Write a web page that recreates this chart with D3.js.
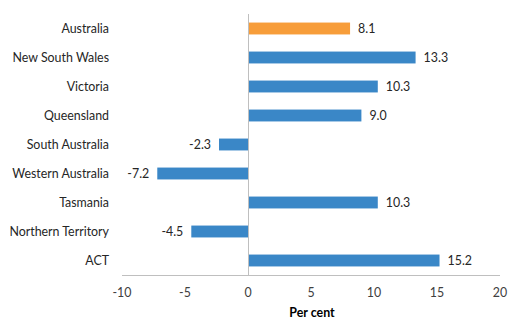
<!DOCTYPE html>
<html><head><meta charset="utf-8">
<script src="https://cdn.jsdelivr.net/npm/d3@7"></script>
<style>body{margin:0;background:#fff}svg{display:block}text{font-family:Lato,"Open Sans",sans-serif}</style>
</head><body>
<svg id="c" width="516" height="331"></svg>
<script>
const categories = ["Australia","New South Wales","Victoria","Queensland","South Australia","Western Australia","Tasmania","Northern Territory","ACT"];
const values = [8.1,13.3,10.3,9.0,-2.3,-7.2,10.3,-4.5,15.2];
const highlight = ["Australia"];
const xTicks = [-10,-5,0,5,10,15,20];
const xTitle = "Per cent";

const svg = d3.select("#c");
const x = d3.scaleLinear().domain([-10,20]).range([122,500]);
const y = d3.scaleBand().domain(categories).range([14,275]).paddingInner(0.59).paddingOuter(0.295);
const fs = 12.4;

svg.append("line").attr("x1",122).attr("x2",500).attr("y1",275.5).attr("y2",275.5).attr("stroke","#bfbfbf").attr("stroke-width",1);
svg.selectAll("rect.bar").data(categories).join("rect")
  .attr("x",(d,i)=>Math.min(x(0),x(values[i])))
  .attr("width",(d,i)=>Math.abs(x(values[i])-x(0)))
  .attr("y",d=>y(d)).attr("height",y.bandwidth())
  .attr("fill",d=>highlight.includes(d)?"#f79d3a":"#3a87c7");
svg.append("line").attr("x1",x(0)+0.5).attr("x2",x(0)+0.5).attr("y1",14).attr("y2",275).attr("stroke","#bfbfbf").attr("stroke-width",1);
svg.selectAll("text.cat").data(categories).join("text")
  .attr("x",109).attr("y",d=>y(d)+y.bandwidth()/2).attr("dy","0.35em")
  .attr("text-anchor","end").attr("font-size",fs).attr("fill","#262626").text(d=>d);
svg.selectAll("text.val").data(categories).join("text")
  .attr("x",(d,i)=>values[i]>=0?x(values[i])+8:x(values[i])-8)
  .attr("y",d=>y(d)+y.bandwidth()/2).attr("dy","0.35em")
  .attr("text-anchor",(d,i)=>values[i]>=0?"start":"end")
  .attr("font-size",fs).attr("fill","#262626").text((d,i)=>values[i].toFixed(1));
svg.selectAll("text.tick").data(xTicks).join("text")
  .attr("x",d=>x(d)).attr("y",293).attr("dy","0.35em").attr("text-anchor","middle")
  .attr("font-size",fs).attr("fill","#404040").text(d=>d);
svg.append("text").attr("x",312).attr("y",313).attr("dy","0.35em").attr("text-anchor","middle")
  .attr("font-size",fs).attr("font-weight","bold").attr("fill","#000").text(xTitle);
</script>
</body></html>
